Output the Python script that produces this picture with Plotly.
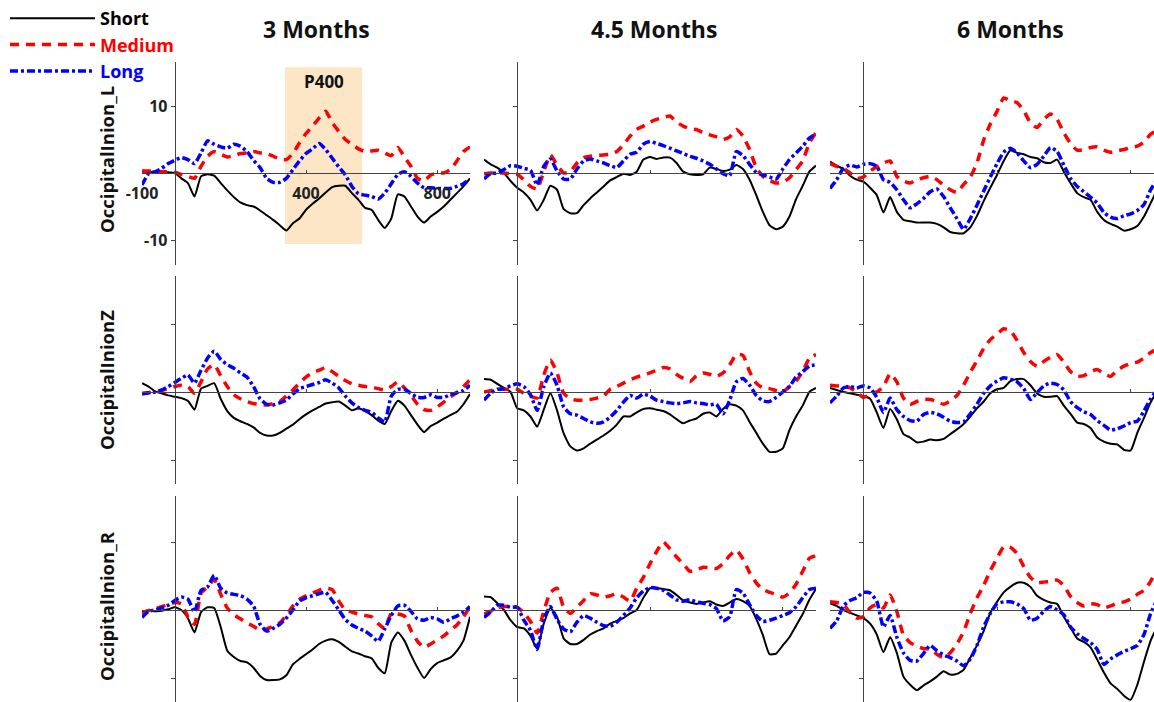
import plotly.graph_objects as go

# ---------------- data ----------------
time_ms = [-100, -80, -60, -40, -20, 0, 20, 40, 60, 80, 100, 120, 140, 160, 180, 200, 220, 240, 260, 280,
           300, 320, 340, 360, 380, 400, 420, 440, 460, 480, 500, 520, 540, 560, 580, 600, 620, 640, 660, 680,
           700, 720, 740, 760, 780, 800, 820, 840, 860, 880, 900]

age_titles = ["3 Months", "4.5 Months", "6 Months"]
site_titles = ["OccipitalInion_L", "OccipitalInionZ", "OccipitalInion_R"]
condition_names = ["Short", "Medium", "Long"]

# Row 1: OccipitalInion_L
short_3m_L = [0.2, 0.2, 0.1, 0.2, 0.1, 0.0, -0.8, -1.5, -3.5, -0.5, -0.2, -0.4, -1.5, -2.6, -3.6, -4.4, -4.8, -5.0, -5.6, -6.3,
              -7.0, -7.8, -8.6, -7.5, -6.8, -5.5, -4.6, -3.8, -2.9, -2.1, -1.9, -1.9, -3.0, -4.0, -5.2, -5.5, -7.0, -8.2, -6.8, -3.2,
              -3.5, -5.0, -6.5, -7.4, -6.5, -5.8, -5.0, -4.0, -3.0, -2.0, -0.8]
medium_3m_L = [0.3, 0.3, 0.3, 0.2, 0.2, 0.1, -0.2, -0.5, -0.8, 1.0, 2.5, 3.2, 2.8, 2.4, 2.6, 2.9, 3.0, 3.2, 3.0, 2.9,
               2.5, 2.1, 2.0, 2.9, 4.5, 5.9, 7.0, 8.2, 9.2, 7.5, 6.2, 5.0, 4.3, 3.6, 3.2, 3.3, 3.4, 3.0, 2.6, 3.8,
               2.4, 1.0, -0.8, -1.2, -0.3, 0.0, 0.0, 0.5, 1.8, 3.2, 3.9]
long_3m_L = [-1.8, -0.1, 0.2, 0.7, 1.4, 1.9, 2.3, 2.0, 1.4, 3.0, 4.8, 4.3, 3.9, 3.7, 4.3, 4.0, 3.2, 1.9, 0.8, -0.8,
             -1.4, -1.4, -0.8, 0.5, 1.8, 2.9, 3.6, 4.4, 3.5, 2.2, 0.9, -0.3, -2.0, -3.1, -3.3, -3.5, -3.9, -3.0, -1.6, -0.2,
             0.2, -0.5, -1.5, -2.2, -2.2, -2.3, -2.3, -2.3, -2.0, -1.6, -0.9]

short_45m_L = [2.0, 1.3, 0.8, 0.0, -1.2, -2.2, -2.9, -4.0, -5.6, -4.0, -1.9, -2.5, -5.4, -6.0, -6.0, -4.8, -3.8, -2.9, -2.0, -1.1,
               -0.6, -0.1, -0.3, 0.2, 2.0, 2.4, 2.1, 2.3, 2.3, 1.5, 0.2, -0.2, -0.3, -0.2, 0.8, 0.6, 0.3, 0.5, 1.2, 0.6,
               -1.0, -3.3, -5.8, -7.8, -8.4, -8.0, -6.5, -3.9, -1.9, 0.2, 1.1]
medium_45m_L = [-0.1, 0.0, 0.0, 0.0, -0.1, -0.2, -1.0, -2.0, -2.4, 0.2, 2.7, 1.2, 0.0, 0.2, 1.5, 2.3, 2.5, 2.6, 2.7, 2.8,
                3.2, 4.2, 5.5, 6.5, 7.0, 7.6, 8.0, 8.3, 8.5, 7.6, 7.0, 6.6, 6.5, 6.0, 5.7, 5.4, 5.0, 5.4, 6.5, 5.5,
                3.5, 0.8, -0.5, -1.1, -1.5, -1.4, -0.7, 0.5, 1.8, 4.5, 6.0]
long_45m_L = [-0.9, -0.1, 0.0, 0.5, 1.1, 1.0, 0.7, 0.4, -1.8, 1.0, 2.1, 0.3, -0.9, -0.9, 0.6, 1.8, 2.1, 1.8, 1.5, 1.1,
              0.8, 1.8, 2.8, 3.1, 4.3, 4.7, 4.4, 4.1, 3.7, 3.3, 2.9, 2.5, 2.2, 1.8, 1.3, 0.6, -0.1, -0.4, 3.2, 2.6,
              1.3, 0.1, -0.3, -0.6, -0.9, 0.6, 2.0, 3.0, 4.0, 5.2, 5.8]

short_6m_L = [1.7, 1.1, 0.6, -0.4, -1.0, -1.3, -2.2, -3.3, -5.9, -3.6, -5.8, -7.0, -7.2, -7.4, -7.4, -7.4, -7.6, -8.1, -8.8, -9.0,
              -9.0, -8.1, -6.4, -4.2, -2.2, -0.3, 1.8, 3.4, 3.0, 2.8, 2.4, 2.2, 1.6, 1.5, 2.0, 0.2, -1.5, -3.0, -3.6, -4.0,
              -5.8, -7.0, -7.6, -8.0, -8.6, -8.4, -7.9, -6.5, -4.5, -2.5, -1.0]
medium_6m_L = [1.4, 1.0, 0.7, 0.0, -0.8, -0.6, 0.3, 0.9, 1.5, 1.8, -0.5, -1.2, -1.5, -1.0, -0.7, -0.5, -1.0, -1.8, -2.5, -2.9,
               -1.7, -0.6, 1.5, 4.9, 7.3, 9.2, 11.2, 10.8, 10.5, 9.3, 7.5, 6.8, 8.0, 8.8, 8.0, 6.0, 4.4, 3.4, 3.5, 3.8,
               3.9, 3.4, 3.1, 3.3, 3.5, 3.8, 4.0, 4.6, 5.8, 6.3, 6.5]
long_6m_L = [-2.3, -1.0, 0.7, 1.2, 0.9, 1.3, 1.4, 1.0, -1.0, -1.4, -2.5, -4.0, -5.2, -4.6, -3.8, -2.8, -2.4, -3.5, -5.2, -6.8,
             -8.4, -6.8, -4.8, -2.7, -0.6, 1.4, 3.1, 3.7, 3.0, 1.8, 0.8, 1.3, 2.5, 3.8, 3.2, 1.2, -0.8, -2.0, -2.8, -3.6,
             -4.5, -5.9, -6.6, -6.8, -6.4, -6.1, -5.6, -4.7, -2.5, -1.0, 0.0]

# Row 2: OccipitalInionZ
short_3m_Z = [1.3, 0.8, 0.1, -0.2, -0.5, -0.7, -0.9, -1.3, -2.6, 0.5, 0.9, 1.3, -1.0, -2.8, -3.8, -4.3, -4.7, -5.2, -6.0, -6.4,
              -6.4, -6.0, -5.4, -4.8, -4.0, -3.3, -2.7, -2.2, -1.7, -1.5, -1.4, -2.0, -2.7, -2.4, -2.8, -3.4, -4.2, -4.7, -2.8, -1.3,
              -2.0, -3.4, -4.8, -5.9, -5.0, -4.5, -3.9, -3.4, -2.9, -1.8, -0.3]
medium_3m_Z = [-0.2, -0.1, 0.0, 0.2, 0.5, 0.8, 1.0, 0.8, -0.2, 1.5, 3.4, 4.0, 2.4, 0.8, -0.4, -1.0, -1.4, -1.7, -1.8, -1.9,
               -1.7, -1.4, -0.6, 0.3, 1.3, 2.2, 2.8, 3.2, 3.6, 3.0, 2.3, 1.7, 1.2, 1.0, 0.8, 0.7, 0.5, 0.3, 0.8, 1.5,
               0.6, -0.5, -1.8, -2.6, -2.7, -2.2, -1.5, -0.7, -0.1, 0.8, 1.8]
long_3m_Z = [-0.3, -0.1, 0.0, 0.3, 0.8, 1.4, 2.0, 2.5, 1.3, 3.2, 5.0, 6.0, 4.8, 4.0, 3.5, 2.8, 2.2, 0.8, -1.0, -1.8,
             -1.9, -1.6, -1.2, -0.3, 0.5, 0.8, 1.1, 1.4, 1.8, 1.3, 0.6, -0.6, -1.6, -2.3, -2.7, -3.0, -3.8, -4.4, -0.6, 0.4,
             0.4, -0.2, -0.8, -0.8, -0.4, -0.8, -0.8, -0.4, -0.1, 0.2, 1.0]

short_45m_Z = [1.9, 1.8, 1.2, 0.6, 0.0, -2.4, -2.7, -3.6, -5.1, -2.6, -0.2, -2.7, -6.1, -8.0, -8.6, -8.3, -7.6, -7.0, -6.4, -5.7,
               -4.8, -3.6, -3.6, -3.0, -2.5, -2.4, -2.6, -2.8, -3.3, -4.0, -4.6, -4.2, -3.9, -3.2, -3.0, -3.6, -2.5, -1.8, -2.0, -2.7,
               -4.4, -6.0, -7.6, -8.8, -8.8, -8.3, -5.6, -3.6, -2.0, 0.0, 0.6]
medium_45m_Z = [0.0, 0.2, 0.4, 0.4, 0.4, 0.4, -0.2, -0.6, -0.9, 2.5, 4.7, 2.8, -0.2, -1.0, -1.2, -1.2, -1.1, -0.9, -0.6, 0.4,
                0.8, 1.3, 1.8, 2.2, 2.5, 2.8, 3.2, 3.6, 3.4, 2.6, 2.0, 1.5, 2.4, 2.8, 2.6, 2.3, 2.8, 4.0, 5.5, 5.4,
                3.0, 1.3, 0.6, 0.5, 0.2, 0.0, 0.8, 1.6, 3.0, 5.0, 5.5]
long_45m_Z = [-1.2, -0.2, 0.4, 0.5, 0.9, 1.2, 0.8, -0.4, -2.7, 0.8, 2.8, 1.0, -2.2, -3.2, -3.4, -3.9, -4.4, -4.6, -4.4, -3.7,
              -2.7, -1.5, -0.5, -0.9, -0.3, -0.6, -1.2, -1.4, -1.6, -1.7, -1.6, -1.4, -1.6, -1.7, -1.9, -1.8, -3.2, -1.2, 1.5, 2.0,
              1.0, -0.5, -1.3, -1.4, -0.8, 0.0, 0.8, 2.2, 3.0, 3.8, 4.0]

short_6m_Z = [0.6, 0.3, 0.0, -0.2, -0.4, -0.6, -1.0, -3.0, -5.3, -2.5, -4.0, -6.2, -6.7, -7.4, -7.3, -7.0, -7.1, -6.9, -6.2, -5.5,
              -4.7, -3.6, -2.4, -1.4, -0.2, 0.4, 0.6, 1.6, 1.9, 1.9, 1.0, -0.2, -0.7, -0.7, -0.6, -2.0, -3.2, -4.5, -4.7, -5.3,
              -6.7, -7.3, -7.6, -7.7, -8.5, -8.6, -6.0, -3.8, -1.5, 0.0, 1.0]
medium_6m_Z = [1.0, 0.9, 0.9, 0.6, 0.0, -0.8, -0.3, 0.0, 0.8, 2.7, 1.5, -0.9, -1.8, -1.4, -1.1, -1.1, -1.4, -1.8, -1.3, -0.5,
               1.0, 2.9, 4.6, 6.4, 7.7, 8.5, 9.3, 9.0, 7.6, 5.8, 4.5, 3.8, 4.5, 5.1, 5.5, 4.4, 3.0, 2.3, 2.4, 3.0,
               3.3, 2.7, 2.3, 3.2, 3.8, 4.2, 4.4, 5.0, 5.8, 6.3, 6.6]
long_6m_Z = [-1.6, -0.6, 0.6, 0.8, 0.6, 0.9, 0.6, -0.8, -3.0, -0.9, -2.6, -3.6, -4.2, -4.3, -3.3, -3.0, -3.2, -3.7, -4.3, -4.5,
             -4.4, -3.2, -1.8, -0.2, 0.9, 1.6, 2.1, 1.9, 1.5, 0.5, -1.1, -0.1, 0.9, 1.3, 1.1, 0.3, -1.4, -2.3, -2.9, -3.3,
             -4.2, -4.9, -5.6, -5.4, -5.0, -4.5, -4.3, -2.8, -1.0, 0.3, 1.0]

# Row 3: OccipitalInion_R
short_3m_R = [-0.3, 0.0, -0.2, -0.1, 0.1, 0.4, 0.0, -1.2, -3.3, -0.3, 0.4, 0.3, -2.5, -6.0, -6.9, -7.5, -7.7, -8.5, -9.7, -10.3,
              -10.3, -10.2, -9.6, -8.0, -7.2, -6.5, -5.8, -5.0, -4.5, -4.3, -4.7, -5.4, -6.1, -6.4, -6.8, -7.1, -8.5, -9.3, -4.8, -3.3,
              -4.5, -6.6, -8.5, -10.0, -8.7, -7.8, -7.4, -7.0, -6.0, -4.5, -1.0]
medium_3m_R = [-0.6, -0.1, 0.2, 0.5, 0.8, 1.1, 0.9, -1.0, -2.1, 2.5, 3.4, 4.5, 2.3, 0.3, -0.7, -1.3, -1.9, -2.4, -3.0, -2.8,
               -2.4, -1.9, -0.8, 0.6, 1.6, 2.1, 2.5, 2.9, 3.2, 3.0, 1.3, 0.0, -0.3, -0.6, -0.8, -1.0, -2.0, -2.7, -0.5, -0.6,
               -0.9, -3.0, -4.6, -5.5, -5.0, -4.4, -3.8, -3.0, -2.2, -1.0, 0.5]
long_3m_R = [-1.1, -0.2, 0.0, 0.3, 0.7, 1.4, 1.9, 1.6, -0.3, 2.9, 3.4, 5.1, 3.2, 2.5, 2.3, 2.1, 1.6, 0.6, -2.1, -3.1,
             -2.7, -2.1, -1.2, 0.0, 1.3, 1.8, 2.1, 2.4, 2.6, 1.4, 0.0, -1.4, -2.2, -2.7, -3.1, -3.8, -4.6, -2.8, -0.8, 0.6,
             0.7, -0.2, -1.3, -1.5, -1.1, -1.3, -1.8, -1.3, -0.9, -0.3, 0.5]

short_45m_R = [2.0, 1.9, 1.0, 0.0, -1.5, -2.5, -2.7, -3.8, -5.7, -2.0, 0.3, -1.0, -4.2, -5.0, -5.0, -4.4, -3.6, -3.1, -2.7, -2.0,
               -1.6, -1.2, -0.5, 0.0, 1.8, 3.2, 3.2, 3.1, 2.9, 2.2, 1.4, 1.1, 0.9, 1.1, 1.3, 0.8, 0.6, 1.1, 1.6, 1.3,
               0.6, -1.3, -3.7, -6.5, -6.4, -5.2, -4.0, -2.3, -0.6, 1.5, 3.1]
medium_45m_R = [-0.6, -0.2, 0.3, 0.5, 0.5, 0.4, -0.4, -1.7, -3.4, -0.2, 2.6, 3.2, 0.4, -0.5, 0.4, 1.4, 2.4, 2.2, 1.9, 2.1,
                2.4, 1.9, 1.3, 3.2, 4.8, 6.8, 8.6, 10.0, 9.0, 7.8, 6.8, 5.7, 5.9, 6.3, 6.2, 6.1, 6.8, 8.0, 8.8, 7.5,
                5.5, 4.0, 3.0, 2.6, 2.3, 1.9, 2.5, 3.8, 5.7, 7.6, 8.0]
long_45m_R = [-1.1, -0.3, 0.7, 0.7, 0.4, 0.4, -1.5, -3.0, -5.8, -1.4, 0.5, -1.4, -2.8, -3.2, -1.8, -0.8, -1.2, -1.8, -2.3, -2.4,
              -1.8, -0.8, 0.3, 1.8, 2.8, 3.3, 3.2, 2.9, 2.2, 1.5, 1.3, 1.5, 1.2, 1.0, 0.8, 0.2, -1.6, -1.0, 3.0, 2.5,
              0.8, -0.8, -1.7, -1.5, -1.2, -0.8, -0.4, 0.5, 1.8, 3.0, 3.2]

short_6m_R = [1.0, 0.6, 0.0, -0.4, -0.8, -1.2, -2.0, -3.6, -6.2, -4.0, -6.3, -9.8, -11.0, -11.8, -11.1, -10.5, -9.8, -9.0, -9.5, -9.4,
              -8.8, -7.0, -5.2, -3.1, -0.4, 1.2, 2.6, 3.4, 4.0, 4.0, 3.4, 2.1, 1.5, 1.1, 0.9, -1.0, -2.6, -4.2, -4.7, -5.5,
              -7.3, -9.2, -10.8, -11.6, -12.6, -13.2, -11.0, -7.6, -4.5, -2.5, -1.0]
medium_6m_R = [1.2, 1.1, 0.8, -0.4, -1.2, -1.0, 0.3, 0.8, 0.3, 2.2, -0.2, -3.7, -4.8, -5.3, -5.7, -5.7, -6.5, -7.0, -6.3, -5.0,
               -3.2, -0.5, 1.8, 3.6, 5.8, 7.6, 9.3, 9.2, 8.3, 6.4, 4.8, 4.0, 4.1, 4.2, 4.4, 3.6, 2.0, 1.1, 0.6, 0.9,
               0.8, 0.3, 0.6, 1.0, 1.2, 1.6, 2.3, 2.9, 4.2, 6.2, 7.0]
long_6m_R = [-2.7, -1.6, 0.6, 1.4, 1.8, 2.6, 2.5, 1.3, -2.5, -0.8, -4.0, -6.3, -7.4, -7.5, -6.4, -5.2, -6.0, -6.6, -7.0, -7.5,
             -8.2, -7.2, -5.2, -2.5, -0.5, 0.9, 1.2, 1.2, 0.9, 0.2, -1.5, -1.2, -0.2, 0.5, 0.0, -0.7, -2.5, -3.5, -4.2, -4.8,
             -5.8, -8.0, -7.2, -6.6, -6.1, -5.7, -5.2, -3.6, -0.5, 1.5, 2.5]

panel_data = [
    [[short_3m_L, medium_3m_L, long_3m_L], [short_45m_L, medium_45m_L, long_45m_L], [short_6m_L, medium_6m_L, long_6m_L]],
    [[short_3m_Z, medium_3m_Z, long_3m_Z], [short_45m_Z, medium_45m_Z, long_45m_Z], [short_6m_Z, medium_6m_Z, long_6m_Z]],
    [[short_3m_R, medium_3m_R, long_3m_R], [short_45m_R, medium_45m_R, long_45m_R], [short_6m_R, medium_6m_R, long_6m_R]],
]

x_tick_vals = [-100, 400, 800]
x_tick_text = ["-100", "400", "800"]
y_tick_vals = [-10, 10]
y_tick_text = ["-10", "10"]
p400_window = (336, 571)
p400_amp = (-10.6, 15.8)

# ---------------- layout geometry (pixels) ----------------
W, H = 1154, 702
col_px = [(142, 470), (484, 816), (830, 1154)]
col_range = [(-100, 900), (-100, 900), (-100, 870)]
row_px = [(62, 173, 265, 6.7), (276, 392, 484, 6.8), (496, 610, 702, 6.8)]  # top, zero, bottom, px/unit

styles = [
    dict(color="black", width=2, dash="solid", shape="spline", smoothing=0.5),
    dict(color="#ff0000", width=3.5, dash="9px,7px", shape="spline", smoothing=0.5),
    dict(color="#0000ff", width=3.5, dash="8px,3px,3px,3px", shape="spline", smoothing=0.5),
]
legend_names = [
    '<span style="color:black">Short</span>',
    '<span style="color:#ff0000">Medium</span>',
    '<span style="color:#0000ff">Long</span>',
]

FONT = "Open Sans"
fig = go.Figure()
layout = {}
for r in range(3):
    top, zero, bot, s = row_px[r]
    yr = [-(bot - zero) / s, (zero - top) / s]
    for c in range(3):
        k = r * 3 + c + 1
        sfx = "" if k == 1 else str(k)
        x0, x1 = col_px[c]
        rmin, rmax = col_range[c]
        x_zero_px = x0 + (0 - rmin) * (x1 - x0) / (rmax - rmin)
        layout["xaxis" + sfx] = dict(
            domain=[x0 / W, x1 / W], range=[rmin, rmax], anchor="free", automargin=False,
            position=1 - zero / H, showline=True, linecolor="#444", linewidth=1,
            showgrid=False, zeroline=False, ticks="inside", ticklen=3, tickcolor="#444",
            tickvals=x_tick_vals, ticktext=x_tick_text, showticklabels=(k == 1),
            ticklabelstandoff=6,
            tickfont=dict(family=FONT, size=16, color="#222", weight="bold"),
        )
        layout["yaxis" + sfx] = dict(
            domain=[1 - bot / H, 1 - top / H], range=yr, anchor="free", automargin=False,
            position=x_zero_px / W, showline=True, linecolor="#444", linewidth=1.2,
            showgrid=False, zeroline=False, ticks="outside", ticklen=4, tickcolor="#444",
            tickvals=y_tick_vals, ticktext=y_tick_text, showticklabels=(k == 1),
            tickfont=dict(family=FONT, size=16, color="#222", weight="bold"),
        )
        for i in range(3):
            fig.add_trace(go.Scatter(
                x=time_ms, y=panel_data[r][c][i], mode="lines",
                line=styles[i], name=legend_names[i], legendgroup=condition_names[i],
                showlegend=(k == 1), xaxis="x" + sfx, yaxis="y" + sfx, hoverinfo="skip",
            ))

fig.update_layout(template="none", **layout)

# P400 window
fig.add_shape(type="rect", xref="x", yref="y", x0=p400_window[0], x1=p400_window[1],
              y0=p400_amp[0], y1=p400_amp[1], fillcolor="#fce6c6", line_width=0, layer="below")

annotations = [dict(x=(p400_window[0] + p400_window[1]) / 2, y=13.6, xref="x", yref="y", text="<b>P400</b>",
                    xanchor="center", yanchor="middle",
                    showarrow=False, font=dict(family=FONT, size=17, color="#111"))]
col_centers = [316, 654, 1010]
for c in range(3):
    annotations.append(dict(x=col_centers[c] / W, y=1 - 29 / H, xref="paper", yref="paper",
                            xanchor="center", yanchor="middle",
                            text="<b>" + age_titles[c] + "</b>", showarrow=False,
                            font=dict(family=FONT, size=23, color="#111")))
row_centers = [160, 380, 606]
for r in range(3):
    annotations.append(dict(x=106 / W, y=1 - row_centers[r] / H, xref="paper", yref="paper",
                            xanchor="center", yanchor="middle",
                            text="<b>" + site_titles[r] + "</b>", showarrow=False, textangle=-90,
                            font=dict(family=FONT, size=18.5, color="#111")))

fig.update_layout(
    width=W, height=H, margin=dict(l=0, r=0, t=0, b=0, pad=0), autosize=False,
    paper_bgcolor="white", plot_bgcolor="rgba(0,0,0,0)",
    annotations=annotations,
    legend=dict(x=5 / W, y=1, xanchor="left", yanchor="top", bgcolor="rgba(0,0,0,0)",
                font=dict(family=FONT, size=18, weight="bold"), itemwidth=85,
                tracegroupgap=6, traceorder="normal"),
)

fig.write_html("out.html", config={"displayModeBar": False},
               post_script="document.body.style.margin='0px';document.body.style.overflow='hidden';")
